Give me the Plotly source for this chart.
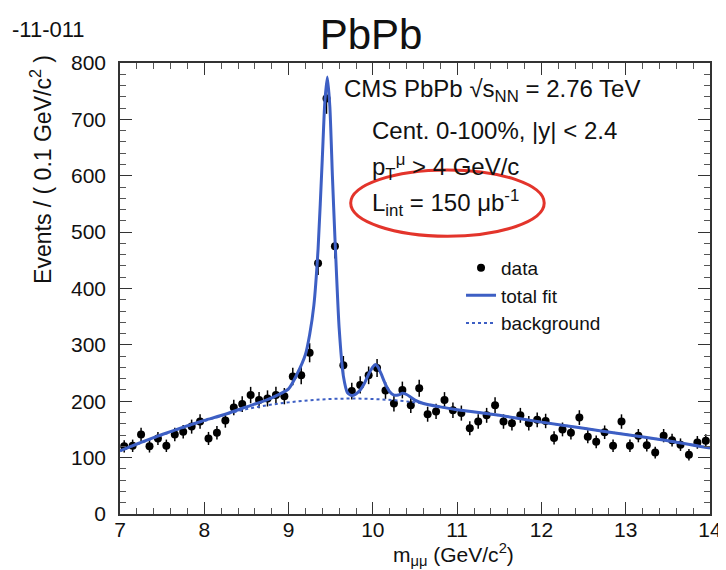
import plotly.graph_objects as go

# dimuon invariant mass bins (GeV/c^2), 0.1 GeV wide
mass_bins = [
    7.05, 7.15, 7.25, 7.35, 7.45, 7.55, 7.65, 7.75, 7.85, 7.95,
    8.05, 8.15, 8.25, 8.35, 8.45, 8.55, 8.65, 8.75, 8.85, 8.95,
    9.05, 9.15, 9.25, 9.35, 9.45, 9.55, 9.65, 9.75, 9.85, 9.95,
    10.05, 10.15, 10.25, 10.35, 10.45, 10.55, 10.65, 10.75, 10.85, 10.95,
    11.05, 11.15, 11.25, 11.35, 11.45, 11.55, 11.65, 11.75, 11.85, 11.95,
    12.05, 12.15, 12.25, 12.35, 12.45, 12.55, 12.65, 12.75, 12.85, 12.95,
    13.05, 13.15, 13.25, 13.35, 13.45, 13.55, 13.65, 13.75, 13.85, 13.95,
]
events = [
    120, 121, 141, 120, 134, 121, 141, 146, 155, 164,
    134, 144, 166, 189, 195, 211, 202, 205, 211, 209,
    244, 246, 286, 445, 737, 475, 264, 218, 229, 246,
    259, 219, 196, 220, 193, 223, 177, 182, 202, 184,
    179, 152, 164, 175, 193, 164, 161, 175, 161, 167,
    165, 135, 150, 144, 171, 137, 128, 145, 121, 164,
    121, 139, 122, 109, 139, 131, 123, 105, 127, 130,
]

# total fit curve
fit_mass = [7.0, 7.25, 7.5, 7.75, 8.0, 8.25, 8.5, 8.75, 9.0, 9.1, 9.2, 9.25,
            9.3, 9.35, 9.4, 9.43, 9.46, 9.49, 9.52, 9.55, 9.6, 9.65, 9.7,
            9.75, 9.8, 9.85, 9.9, 9.95, 10.0, 10.03, 10.06, 10.1, 10.15,
            10.2, 10.25, 10.3, 10.35, 10.4, 10.45, 10.5, 10.6, 10.8, 11.0,
            11.5, 12.0, 12.5, 13.0, 13.5, 14.0]
fit_total = [112, 127, 141, 154, 166, 177, 190, 203, 222, 248, 283, 318,
             370, 470, 630, 730, 775, 722, 600, 490, 330, 245, 215,
             210, 213, 220, 232, 248, 261, 265, 261, 248, 230,
             217, 211, 211, 214, 212, 207, 202, 196, 190, 185,
             175, 163, 152, 141, 130, 117]

# background component
bkg_mass = [7.0, 7.5, 8.0, 8.5, 9.0, 9.5, 10.0, 10.5, 11.0, 11.5, 12.0,
            12.5, 13.0, 13.5, 14.0]
bkg_vals = [112, 140, 165, 186, 198, 204, 204, 198, 185, 175, 163,
            152, 141, 130, 117]

blue = '#3d5fc4'
font = 'Liberation Sans, Arial, sans-serif'

fig = go.Figure()
fig.add_trace(go.Scatter(
    x=mass_bins, y=events, mode='markers', name='data',
    marker=dict(color='black', size=8),
    error_y=dict(type='sqrt', color='black', thickness=1.5, width=0),
))
fig.add_trace(go.Scatter(
    x=fit_mass, y=fit_total, mode='lines', name='total fit',
    line=dict(color=blue, width=3, shape='spline', smoothing=0.6),
))
fig.add_trace(go.Scatter(
    x=bkg_mass, y=bkg_vals, mode='lines', name='background',
    line=dict(color=blue, width=2, dash='dot', shape='spline'),
))

axis_common = dict(
    showline=True, linecolor='#333', linewidth=1.5, mirror='allticks',
    ticks='inside', ticklen=12, tickcolor='#333', showgrid=False,
    zeroline=False, tickfont=dict(family=font, size=21, color='#111'),
)
fig.update_xaxes(range=[7, 14], dtick=1, ticklabelstandoff=-4,
                 minor=dict(dtick=0.2, ticks='inside', ticklen=6, tickcolor='#555'),
                 **axis_common)
fig.update_yaxes(range=[0, 800], dtick=100, ticklabelstandoff=8,
                 minor=dict(dtick=20, ticks='inside', ticklen=6, tickcolor='#555'),
                 **axis_common)

texts = [
    ('CMS PbPb √s<sub>NN</sub> = 2.76 TeV', 0.376, 0.940),
    ('Cent. 0-100%, |y| < 2.4', 0.423, 0.851),
    ('p<sub>T</sub><sup>μ</sup> > 4 GeV/c', 0.423, 0.769),
    ('L<sub>int</sub> = 150 μb<sup>-1</sup>', 0.423, 0.690),
]
for t, x, y in texts:
    fig.add_annotation(text=t, x=x, y=y, xref='paper', yref='paper',
                       xanchor='left', yanchor='middle', showarrow=False,
                       font=dict(family=font, size=24, color='#111'))

# y title sits at the top of the axis, x title to the right
fig.add_annotation(text='Events / ( 0.1 GeV/c<sup>2</sup> )', textangle=-90,
                   x=-0.134, y=0.765, xref='paper', yref='paper',
                   xanchor='center', yanchor='middle', showarrow=False,
                   font=dict(family=font, size=23, color='#111'))
fig.add_annotation(text='m<sub>μμ</sub> (GeV/c<sup>2</sup>)',
                   x=0.566, y=-0.089, xref='paper', yref='paper',
                   xanchor='center', yanchor='middle', showarrow=False,
                   font=dict(family=font, size=21, color='#111'))
fig.add_annotation(text='-11-011', x=-0.187, y=1.075, xref='paper',
                   yref='paper', xanchor='left', yanchor='middle',
                   showarrow=False, font=dict(family=font, size=22, color='#111'))

# red ellipse around the luminosity
fig.add_shape(type='circle', xref='paper', yref='paper',
              x0=0.391, x1=0.719, y0=0.616, y1=0.763,
              line=dict(color='#e3342b', width=3))

fig.update_layout(
    width=726, height=570,
    margin=dict(l=112, r=16, t=55, b=64),
    paper_bgcolor='white', plot_bgcolor='white',
    title=dict(text='PbPb', x=0.5, xanchor='center', y=0.953, yanchor='middle',
               font=dict(family=font, size=42, color='#111')),
    legend=dict(x=0.578, y=0.588, xanchor='left', yanchor='top',
                bgcolor='rgba(0,0,0,0)', tracegroupgap=0,
                font=dict(family=font, size=19, color='#111')),
)

fig.write_html("out.html")
